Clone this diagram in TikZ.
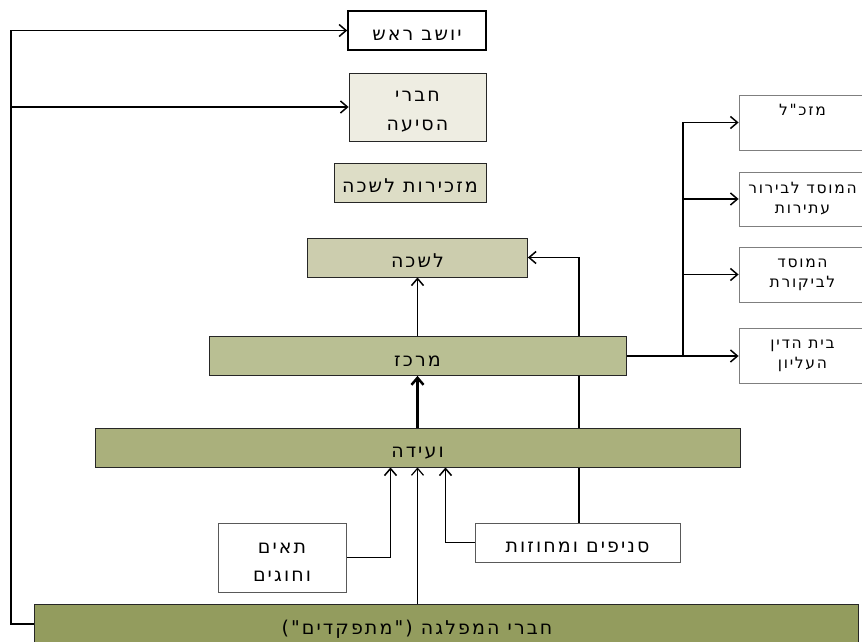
\documentclass[tikz,border=0pt]{standalone}
\usepackage{fontspec}
\usetikzlibrary{arrows.meta,backgrounds,calc}
\TeXXeTstate=1
\newfontfamily\hebfont[Script=Hebrew,LetterSpace=11]{DejaVu Sans}
\newcommand{\heb}[1]{\beginR #1\endR}
\newcommand{\topstrut}{\rule{0pt}{20pt}}
\definecolor{cA}{HTML}{EEEDE2}
\definecolor{cB}{HTML}{DDDDC6}
\definecolor{cC}{HTML}{CCCDAE}
\definecolor{cD}{HTML}{B9BF93}
\definecolor{cE}{HTML}{AAB07C}
\definecolor{cF}{HTML}{939C5E}
\definecolor{edgegray}{HTML}{7F7F7F}
\tikzset{
  basebox/.style={draw=black!85, line width=0.8pt, inner sep=0pt, align=center,
    font=\hebfont\fontsize{19}{28.5}\selectfont},
  box/.style={basebox, text height=20pt, text depth=0pt},
  boxtwo/.style={basebox},
  rbox/.style={draw=edgegray, line width=0.8pt, fill=white, inner sep=0pt, align=center,
    font=\hebfont\fontsize{15.5}{20}\selectfont, minimum width=127pt, minimum height=55pt},
  conn/.style={line width=1.5pt, -{Straight Barb[length=7pt,width=12pt]}},
}
\begin{document}
\begin{tikzpicture}[x=1pt,y=-1pt]
\useasboundingbox (0,0) rectangle (862,641);
% nodes
\node[box, fill=white, line width=1.5pt, draw=black, minimum width=138pt, minimum height=39pt] (yr) at (417,30.5) {\heb{יושב ראש}};
\node[boxtwo, fill=cA, minimum width=137pt, minimum height=68pt] (hs) at (417.5,107) {\topstrut\heb{חברי}\\\heb{הסיעה}};
\node[box, fill=cB, minimum width=152pt, minimum height=39pt] (ml) at (410,182.5) {\heb{מזכירות לשכה}};
\node[box, fill=cC, minimum width=220pt, minimum height=39pt] (lishka) at (417.5,257.5) {\heb{לשכה}};
\node[box, fill=cD, minimum width=417pt, minimum height=39pt] (merkaz) at (417.5,356) {\heb{מרכז}};
\node[box, fill=cE, minimum width=645pt, minimum height=39pt] (veida) at (417.5,447.5) {\heb{ועידה}};
\node[box, fill=cF, minimum width=824pt, minimum height=40pt] (members) at (446,624) {\heb{חברי המפלגה ("מתפקדים")}\rule{58pt}{0pt}};
\node[boxtwo, draw=black!65, fill=white, minimum width=128pt, minimum height=69pt] (taim) at (282,557.5) {\topstrut\heb{תאים}\\\heb{וחוגים}};
\node[box, draw=black!65, fill=white, minimum width=205pt, minimum height=39pt] (snifim) at (577.5,542.5) {\heb{סניפים ומחוזות}};
\node[rbox] (mzkl) at (802.5,122.5) {\heb{מזכ"ל}\\\strut};
\node[rbox, minimum height=54pt] (mosada) at (802.5,199) {\heb{המוסד לבירור}\\\heb{עתירות}};
\node[rbox] (mosadb) at (802.5,274.5) {\heb{המוסד}\\\heb{לביקורת}};
\node[rbox] (beit) at (802.5,356) {\heb{בית הדין}\\\heb{העליון}};
% connectors
\coordinate (sp) at (11,30.5);
\coordinate (tr) at (683,356);
\begin{scope}[on background layer]
\draw[conn] (members.west) -| (sp) -- (yr.west);
\draw[conn] (sp |- hs.west) -- (hs.west);
\draw[conn] (merkaz.north) -- (lishka.south);
\draw[conn, line width=2.5pt] (veida.north) -- (merkaz.south);
\draw[conn, line width=1.2pt] (veida.south |- members.north) -- (veida.south);
\draw[conn] (taim.east) -| ([xshift=-27pt]veida.south);
\draw[conn] (snifim.west) -| ([xshift=28pt]veida.south);
\draw[conn] ([xshift=1.5pt]snifim.north) |- (lishka.east);
\draw[conn] (merkaz.east) -- (beit.west);
\draw[conn] (tr) |- (mzkl.west);
\draw[conn] (tr |- mosada.west) -- (mosada.west);
\draw[conn] (tr |- mosadb.west) -- (mosadb.west);
\end{scope}
\end{tikzpicture}
\end{document}
